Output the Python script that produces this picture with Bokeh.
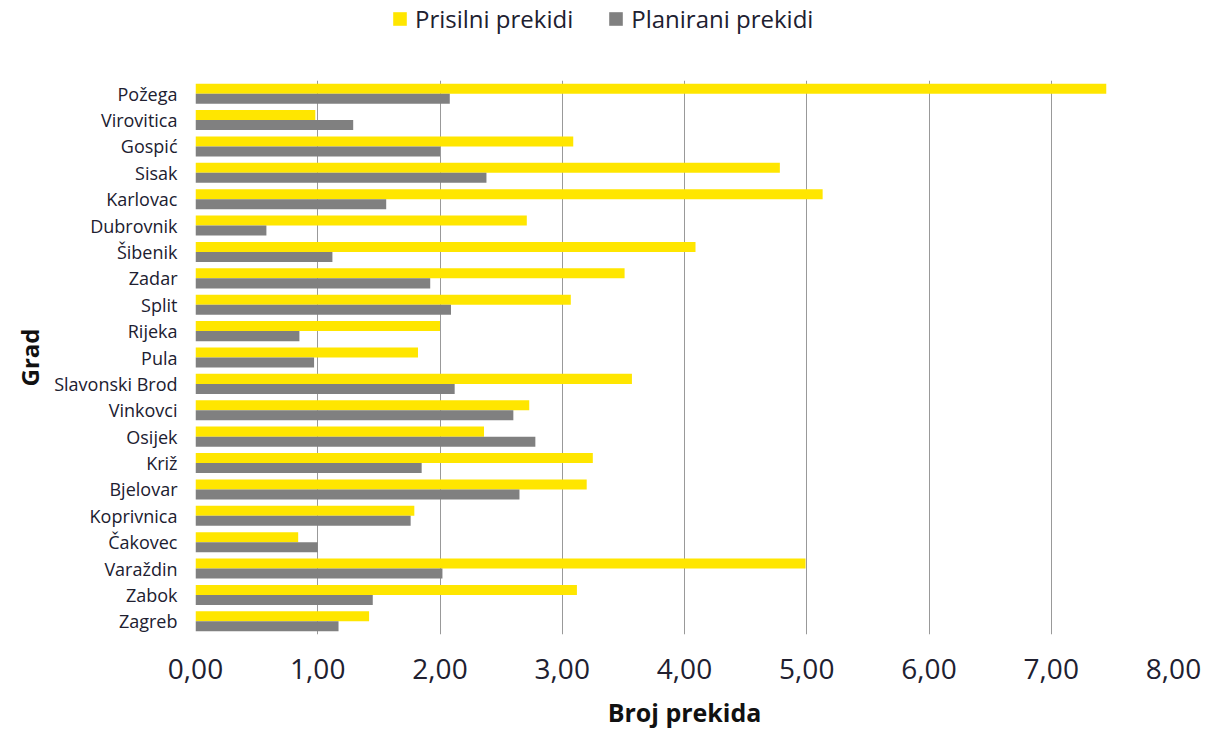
from bokeh.plotting import figure
from bokeh.layouts import column
from bokeh.models import FactorRange, Range1d, FixedTicker, Legend, LegendItem, ColumnDataSource
from bokeh.transform import dodge
from bokeh.embed import file_html
from bokeh.resources import INLINE

cities = ["Požega", "Virovitica", "Gospić", "Sisak", "Karlovac", "Dubrovnik", "Šibenik",
          "Zadar", "Split", "Rijeka", "Pula", "Slavonski Brod", "Vinkovci", "Osijek",
          "Križ", "Bjelovar", "Koprivnica", "Čakovec", "Varaždin", "Zabok", "Zagreb"]
prisilni = [7.45, 0.98, 3.09, 4.78, 5.13, 2.71, 4.09, 3.51, 3.07, 2.00, 1.82,
            3.57, 2.73, 2.36, 3.25, 3.20, 1.79, 0.84, 4.99, 3.12, 1.42]
planirani = [2.08, 1.29, 2.00, 2.38, 1.56, 0.58, 1.12, 1.92, 2.09, 0.85, 0.97,
             2.12, 2.60, 2.78, 1.85, 2.65, 1.76, 1.00, 2.02, 1.45, 1.17]
x_ticks = [0, 1, 2, 3, 4, 5, 6, 7, 8]
x_tick_labels = ["0,00", "1,00", "2,00", "3,00", "4,00", "5,00", "6,00", "7,00", "8,00"]
series_names = ["Prisilni prekidi", "Planirani prekidi"]

YELLOW = "#FFE600"
GREY = "#808080"
TEXT = "#202030"

source = ColumnDataSource(dict(city=cities, prisilni=prisilni, planirani=planirani))

# ---- main chart ----
p = figure(width=1212, height=692, output_backend="svg", toolbar_location=None,
           y_range=FactorRange(factors=list(reversed(cities))),
           x_range=Range1d(0, 8),
           min_border_left=195, min_border_right=39, min_border_top=40, min_border_bottom=98)
p.outline_line_color = None

r1 = p.hbar(y=dodge("city", 0.19, range=p.y_range), right="prisilni", left=0, height=0.38,
            color=YELLOW, line_color=None, source=source)
r2 = p.hbar(y=dodge("city", -0.19, range=p.y_range), right="planirani", left=0, height=0.38,
            color=GREY, line_color=None, source=source)

p.xaxis.ticker = FixedTicker(ticks=x_ticks)
p.xaxis.major_label_overrides = {t: l for t, l in zip(x_ticks, x_tick_labels)}
p.xaxis.axis_line_color = None
p.xaxis.major_tick_line_color = None
p.xaxis.minor_tick_line_color = None
p.xaxis.major_label_standoff = 18
p.xaxis.major_label_text_font = "Open Sans"
p.xaxis.major_label_text_font_size = "28px"
p.xaxis.major_label_text_color = TEXT
p.xaxis.axis_label = "Broj prekida"
p.xaxis.axis_label_text_font = "Open Sans"
p.xaxis.axis_label_text_font_style = "bold"
p.xaxis.axis_label_text_font_size = "25px"
p.xaxis.axis_label_text_color = "#111111"
p.xaxis.axis_label_standoff = 13

p.yaxis.axis_line_color = None
p.yaxis.major_tick_line_color = None
p.yaxis.minor_tick_line_color = None
p.yaxis.major_label_standoff = 12
p.yaxis.major_label_text_font = "Open Sans"
p.yaxis.major_label_text_font_size = "18px"
p.yaxis.major_label_text_color = TEXT
p.yaxis.axis_label = "Grad"
p.yaxis.axis_label_text_font = "Open Sans"
p.yaxis.axis_label_text_font_style = "bold"
p.yaxis.axis_label_text_font_size = "24px"
p.yaxis.axis_label_text_color = "#111111"

p.xgrid.grid_line_color = "#999999"
p.xgrid.grid_line_width = 1
p.ygrid.grid_line_color = None

# ---- legend strip above the chart (its renderers have zero height, so draw nothing) ----
lg = figure(width=1212, height=40, output_backend="svg", toolbar_location=None,
            x_range=Range1d(0, 8), y_range=Range1d(0, 1),
            x_axis_location=None, y_axis_location=None,
            min_border_left=195, min_border_right=39, min_border_top=0, min_border_bottom=0)
lg.outline_line_color = None
lg.xgrid.grid_line_color = None
lg.ygrid.grid_line_color = None
lr1 = lg.hbar(y=0.5, right="prisilni", left=0, height=0, color=YELLOW, line_color=None,
              source=source)
lr2 = lg.hbar(y=0.5, right="planirani", left=0, height=0, color=GREY, line_color=None,
              source=source)

legend = Legend(items=[LegendItem(label=series_names[0], renderers=[lr1]),
                       LegendItem(label=series_names[1], renderers=[lr2])],
                orientation="horizontal", location=(196, 5),
                border_line_color=None, background_fill_alpha=0,
                padding=0, margin=0, spacing=34, label_standoff=7,
                glyph_width=17, glyph_height=17,
                label_text_font="Open Sans", label_text_font_size="24px",
                label_text_color=TEXT)
lg.add_layout(legend, "center")

layout = column(lg, p, spacing=0)
open("out.html", "w").write(file_html(layout, INLINE))
